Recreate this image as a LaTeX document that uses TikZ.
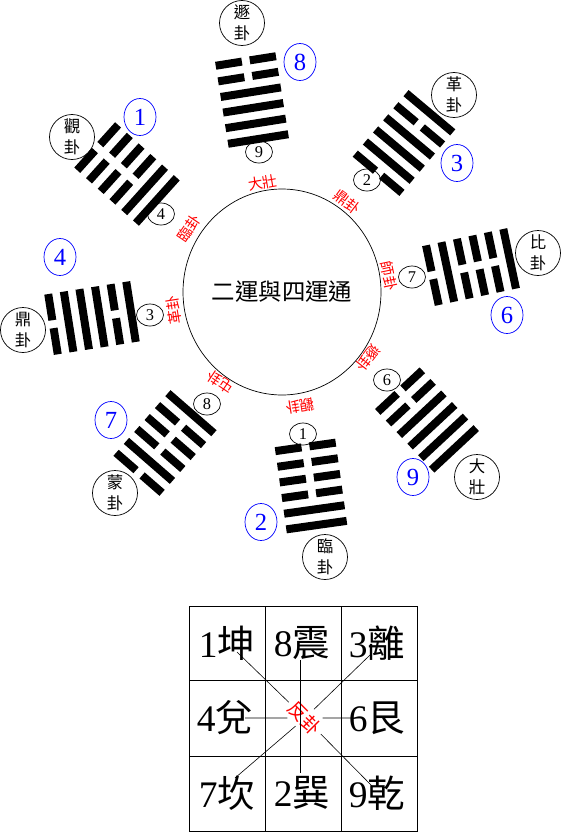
\documentclass[tikz,border=0pt]{standalone}
\usepackage{fontspec}
\setmainfont{Liberation Serif}
\newfontfamily\cjk{Noto Sans CJK TC}
\usetikzlibrary{shapes.geometric}

% Una línea del hexagrama: #1 posición, #2 = 1 entera / 0 partida
\newcommand{\yao}[2]{%
  \ifnum#2=1
    \fill (-30.5,{#1-4}) rectangle (30.5,{#1+4});
  \else
    \fill (-30.5,{#1-4}) rectangle (-4,{#1+4});
    \fill (4,{#1-4}) rectangle (30.5,{#1+4});
  \fi}
% Hexagrama: centro, giro, seis líneas de fuera hacia dentro
\newcommand{\gua}[8]{%
  \begin{scope}[shift={#1},rotate=#2]
    \yao{-39.5}{#3}\yao{-23.7}{#4}\yao{-7.9}{#5}
    \yao{7.9}{#6}\yao{23.7}{#7}\yao{39.5}{#8}
  \end{scope}}

\tikzset{
  bluenum/.style={ellipse, draw=blue, text=blue, inner sep=0pt,
    minimum width=0.96cm, minimum height=1.11cm, font=\fontsize{21}{21}\selectfont},
  smallnum/.style={ellipse, draw, inner sep=0pt,
    minimum width=0.81cm, minimum height=0.66cm, font=\fontsize{14}{14}\selectfont},
  guaname/.style={circle, draw, inner sep=0pt, minimum size=1.35cm, align=center,
    font=\cjk\fontsize{14}{18}\selectfont},
  redname/.style={text=red, inner sep=0pt, font=\cjk\fontsize{12.5}{12.5}\selectfont},
  cell/.style={inner sep=0pt, font=\fontsize{32}{32}\selectfont},
}

\begin{document}
\begin{tikzpicture}[x=0.03cm,y=-0.03cm,line width=0.6pt]
  \useasboundingbox (0,0) rectangle (568,833);

  % Círculo central
  \draw (282,292) ellipse (99 and 103);
  \node (centro) at (282,292) {\cjk\fontsize{20}{20}\selectfont 二運與四運通};

  % Hexagramas (líneas de fuera hacia dentro)
  \gua{(252,100)}{9}{0}{0}{1}{1}{1}{1}      % 遯
  \gua{(404,143)}{-40}{1}{0}{1}{1}{1}{0}    % 革
  \gua{(471,267)}{-78}{1}{0}{0}{0}{1}{0}    % 比
  \gua{(427,420)}{-137}{1}{1}{1}{1}{0}{0}   % 大壯
  \gua{(311,486)}{-172}{1}{1}{0}{0}{0}{0}   % 臨
  \gua{(165,443)}{139}{0}{1}{0}{0}{0}{1}    % 蒙
  \gua{(92,318)}{99}{0}{1}{1}{1}{0}{1}      % 鼎
  \gua{(127,174)}{48}{0}{0}{0}{0}{1}{1}     % 觀

  % Nombres
  \node[guaname] (dun)  at (242,23)  {遯\\卦};
  \node[guaname] (ge)   at (454,95)  {革\\卦};
  \node[guaname] (bi)   at (538,253) {比\\卦};
  \node[guaname] (dz)   at (477,477) {大\\壯};
  \node[guaname] (lin)  at (325,557) {臨\\卦};
  \node[guaname] (meng) at (115,493) {蒙\\卦};
  \node[guaname] (ding) at (23,330)  {鼎\\卦};
  \node[guaname] (guan) at (72,137)  {觀\\卦};

  % Números azules
  \node[bluenum] (b8) at (300,62)  {8};
  \node[bluenum] (b3) at (457,163) {3};
  \node[bluenum] (b6) at (507,315) {6};
  \node[bluenum] (b9) at (413,477) {9};
  \node[bluenum] (b2) at (261,522) {2};
  \node[bluenum] (b7) at (111,420) {7};
  \node[bluenum] (b4) at (60,257)  {4};
  \node[bluenum] (b1) at (140,117) {1};

  % Números interiores
  \node[smallnum] (s9) at (259,152) {9};
  \node[smallnum] (s2) at (367,180) {2};
  \node[smallnum] (s7) at (412,277) {7};
  \node[smallnum] (s6) at (387,380) {6};
  \node[smallnum] (s1) at (303,434) {1};
  \node[smallnum] (s8) at (207,404) {8};
  \node[smallnum] (s3) at (150,315) {3};
  \node[smallnum] (s4) at (161,214) {4};

  % Etiquetas rojas alrededor del círculo
  \node[redname, rotate=10]   (r9) at (263,183) {大壯};
  \node[redname, rotate=-37]  (r2) at (347,202) {鼎卦};
  \node[redname, rotate=-78]  (r7) at (389,276) {師卦};
  \node[redname, rotate=-128] (r6) at (368,358) {遯卦};
  \node[redname, rotate=189]  (r1) at (300,406) {觀卦};
  \node[redname, rotate=146]  (r8) at (220,382) {屯卦};
  \node[redname, rotate=99]   (r3) at (174,310) {革卦};
  \node[redname, rotate=56]   (r4) at (189,228) {臨卦};

  % Cuadrícula
  \draw (189,606) rectangle (417,831);
  \draw (265,606) -- (265,831) (341,606) -- (341,831);
  \draw (189,680) -- (417,680) (189,756) -- (417,756);

  \node[cell] (k1) at (227,643) {1{\cjk 坤}};
  \node[cell] (k8) at (302,643) {8{\cjk 震}};
  \node[cell] (k3) at (377,643) {3{\cjk 離}};
  \node[cell] (k4) at (225,718) {4{\cjk 兌}};
  \node[cell] (k6) at (377,718) {6{\cjk 艮}};
  \node[cell] (k7) at (227,793) {7{\cjk 坎}};
  \node[cell] (k2) at (302,793) {2{\cjk 巽}};
  \node[cell] (k9) at (377,793) {9{\cjk 乾}};

  \node[redname, rotate=-45, inner sep=3pt, font=\cjk\fontsize{16}{16}\selectfont]
    (medio) at (305,718) {反卦};

  % Líneas entre casillas
  \coordinate (e1) at (237,652);
  \coordinate (e9) at (373,787);
  \coordinate (e3) at (370,655);
  \coordinate (e7) at (235,778);
  \coordinate (e8) at (300,660);
  \coordinate (e2) at (300,773);
  \coordinate (e4) at (245,718);
  \coordinate (e6) at (362,718);
  \draw[line width=0.5pt] (e1) -- (medio) -- (e9);
  \draw[line width=0.5pt] (e3) -- (medio) -- (e7);
  \draw[line width=0.5pt] (e4) -- (medio) -- (e6);
  \draw[line width=0.5pt] (e8) -- (e2);
\end{tikzpicture}
\end{document}
